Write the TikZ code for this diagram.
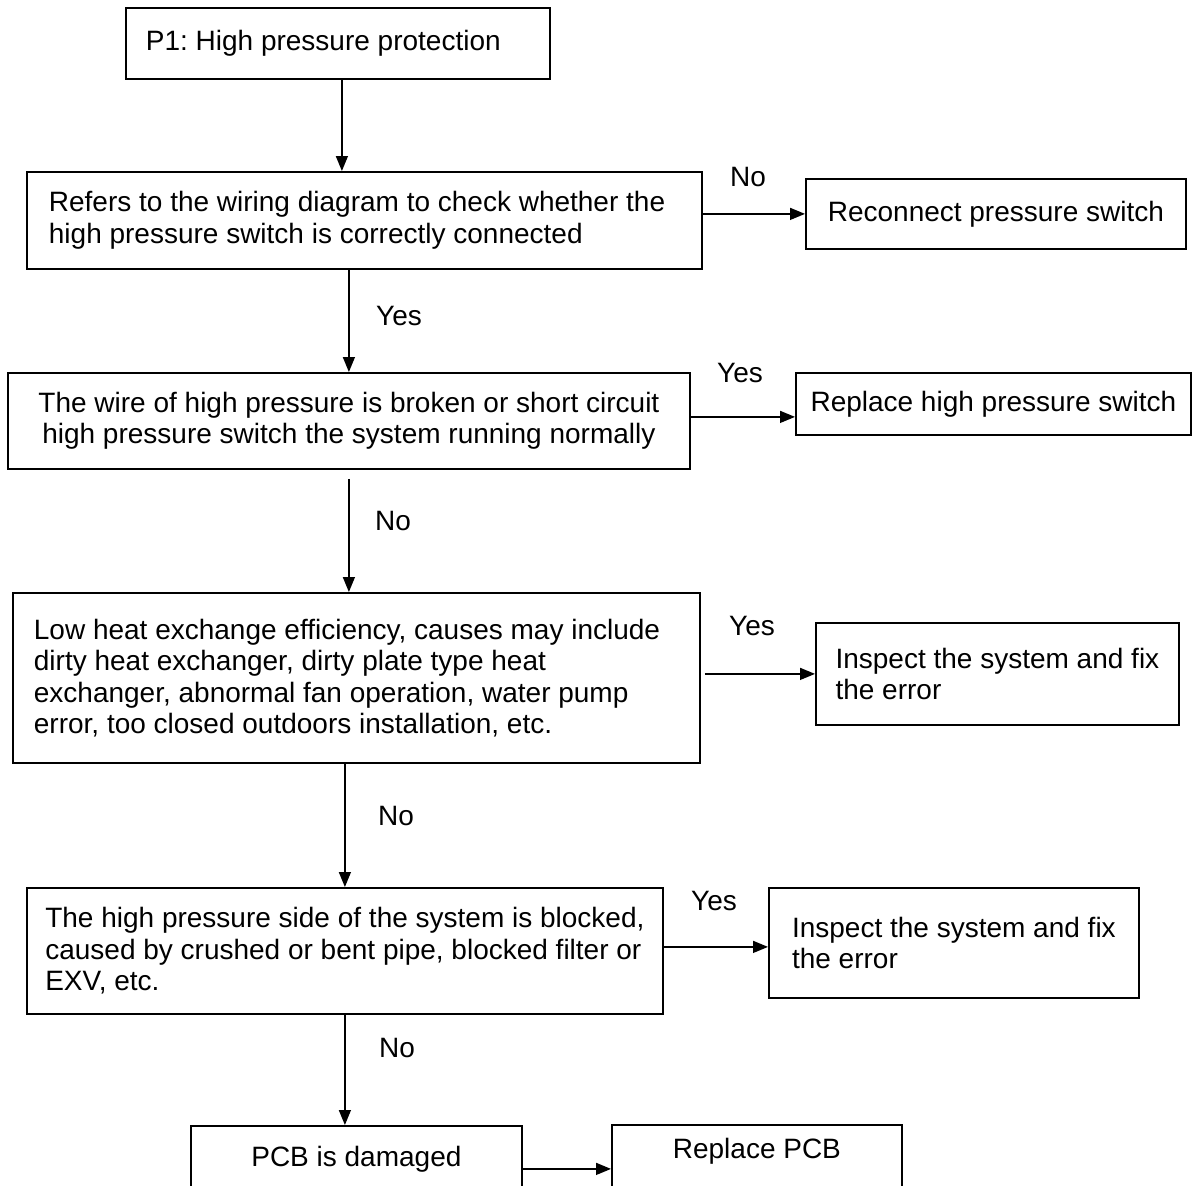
\documentclass[tikz,border=0pt]{standalone}
\usepackage{fontspec}
\setmainfont{Liberation Sans}
\usetikzlibrary{arrows.meta,calc}
\frenchspacing
\begin{document}
\begin{tikzpicture}[x=1pt,y=-1pt,
  box/.style={draw,line width=1.8pt,anchor=north west,inner ysep=2pt,inner xsep=2pt,
    font=\fontsize{28}{31.5}\selectfont},
  lab/.style={inner sep=0pt,font=\fontsize{28}{31.5}\selectfont},
  arr/.style={line width=1.5pt,-{Triangle[length=15pt,width=12pt]}}]
\useasboundingbox (0,0) rectangle (1192,1186);
\clip (0,0) rectangle (1192,1186);

\node[box,align=flush left,text width=384pt,inner xsep=20pt,minimum width=424pt,minimum height=71pt] (b1) at (125,7) {P1: High pressure protection};
\node[box,align=flush left,text width=631pt,inner xsep=22pt,minimum width=675pt,minimum height=97pt] (b2) at (26,171) {Refers to the wiring diagram to check whether the\\high pressure switch is correctly connected};
\node[box,align=flush center,text width=662pt,inner xsep=10pt,minimum width=682pt,minimum height=96pt] (b3) at (7,372) {The wire of high pressure is broken or short circuit\\high pressure switch the system running normally};
\node[box,align=flush left,text width=645pt,inner xsep=21pt,minimum width=687pt,minimum height=170pt] (b4) at (12,592) {Low heat exchange efficiency, causes may include\\dirty heat exchanger, dirty plate type heat\\exchanger, abnormal fan operation, water pump\\error, too closed outdoors installation, etc.};
\node[box,align=flush left,minimum width=636pt,minimum height=126pt] (b5) at (26,887) {The high pressure side of the system is blocked,\\caused by crushed or bent pipe, blocked filter or\\EXV, etc.};

\node[box,align=center,minimum width=380pt,minimum height=70pt] (r1) at (805,178) {Reconnect pressure switch};
\node[box,align=center,minimum width=395pt,minimum height=62pt] (r2) at (795,372) {Replace high pressure switch};
\node[box,align=flush left,minimum width=363pt,minimum height=102pt] (r3) at (815,622) {Inspect the system and fix\\the error};
\node[box,align=flush left,minimum width=370pt,minimum height=110pt] (r4) at (768,887) {Inspect the system and fix\\the error};

\node[box,align=center,minimum width=331pt,minimum height=66pt] (p1) at (190,1125) {PCB is damaged};
\node[box,align=center,minimum width=290pt,minimum height=76pt,text depth=30pt] (p2) at (611,1124) {Replace PCB};

% vertical connectors
\draw[arr] ([xshift=4pt]b1.south) -- ([xshift=4pt]b1.south |- b2.north);
\draw[arr] (b3.north |- b2.south) -- (b3.north);
\draw[arr,shorten <=9pt] (b3.south) -- (b3.south |- b4.north);
\draw[arr] (b5.north |- b4.south) -- (b5.north);
\draw[arr] (b5.south) -- (b5.south |- p1.north);

% horizontal connectors
\draw[arr] (b2.east |- r1.west) -- (r1.west);
\draw[arr] ([yshift=4pt]b3.east) -- ([yshift=4pt]b3.east -| r2.west);
\draw[arr,shorten <=4pt] (b4.east |- r3.west) -- (r3.west);
\draw[arr] ([yshift=4pt]b5.east) -- ([yshift=4pt]b5.east -| r4.west);
\draw[arr] ([yshift=-10pt]p1.east) -- ([yshift=-10pt]p1.east -| p2.west);

% labels
\node[lab] (l1) at (748,177) {No};
\node[lab] (l2) at (399,316) {Yes};
\node[lab] (l3) at (740,373) {Yes};
\node[lab] (l4) at (393,521) {No};
\node[lab] (l5) at (752,626) {Yes};
\node[lab] (l6) at (396,816) {No};
\node[lab] (l7) at (714,901) {Yes};
\node[lab] (l8) at (397,1048) {No};
\end{tikzpicture}
\end{document}
